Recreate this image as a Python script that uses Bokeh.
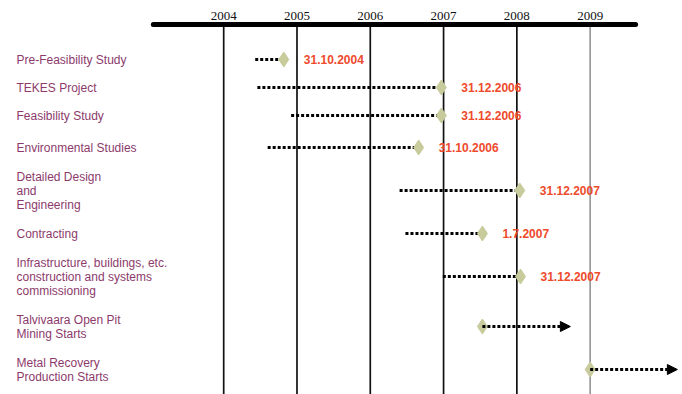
from bokeh.plotting import figure
from bokeh.models import ColumnDataSource, Range1d, Arrow, NormalHead
from bokeh.core.properties import value
from bokeh.embed import file_html
from bokeh.resources import INLINE

# ---- data ----
tasks = [
    "Pre-Feasibility Study",
    "TEKES Project",
    "Feasibility Study",
    "Environmental Studies",
    "Detailed Design\nand\nEngineering",
    "Contracting",
    "Infrastructure, buildings, etc.\nconstruction and systems\ncommissioning",
    "Talvivaara Open Pit\nMining Starts",
    "Metal Recovery\nProduction Starts",
]
task_start = [2004.43, 2004.46, 2004.92, 2004.60, 2006.40, 2006.48, 2006.99, 2007.53, 2009.00]
task_end = [2004.82, 2006.97, 2006.97, 2006.66, 2008.04, 2007.53, 2008.05, 2008.73, 2010.19]
milestone_text = ["31.10.2004", "31.12.2006", "31.12.2006", "31.10.2006",
                  "31.12.2007", "1.7.2007", "31.12.2007", "", ""]
ongoing = [False, False, False, False, False, False, False, True, True]
years = [2004, 2005, 2006, 2007, 2008, 2009]
year_labels = ["2004", "2005", "2006", "2007", "2008", "2009"]

# ---- layout (pixel rows, scale) ----
W, H = 682, 394
px_per_year = 73.29
x0_px = 223.2  # pixel of 2004
row_y = [59, 87, 115, 147, 190, 233, 276, 326, 369]
axis_y = 24

xs = 2004 - x0_px / px_per_year
xe = 2004 + (W - x0_px) / px_per_year

p = figure(width=W, height=H, x_range=Range1d(xs, xe), y_range=Range1d(H, 0),
           output_backend="svg", toolbar_location=None,
           x_axis_location=None, y_axis_location=None, min_border=0)
p.outline_line_color = None
p.grid.visible = False
p.background_fill_color = "white"

# vertical year lines
yl_colors = ["#111111"] * 5 + ["#9a9a9a"]
p.segment(x0=years, y0=[axis_y] * len(years), x1=years, y1=[H + 5] * len(years),
          line_color=yl_colors, line_width=1.7)

# thick top axis line
p.segment(x0=[2003.04], y0=[axis_y], x1=[2009.62], y1=[axis_y],
          line_color="black", line_width=5, line_cap="round")

# year labels
p.text(x=years, y=[15] * len(years), text=year_labels, text_align="center",
       text_baseline="middle", text_font=value("Liberation Serif"),
       text_font_size="13px", text_color="#111111")

# finished tasks: dotted bars ending in a diamond
done_idx = [i for i, o in enumerate(ongoing) if not o]
run_idx = [i for i, o in enumerate(ongoing) if o]
done = ColumnDataSource(dict(
    x0=[task_start[i] for i in done_idx], x1=[task_end[i] for i in done_idx],
    y=[row_y[i] for i in done_idx], lab=[milestone_text[i] for i in done_idx]))
p.segment(x0="x0", y0="y", x1="x1", y1="y", source=done, line_color="black",
          line_width=3, line_dash="3 2")

# ongoing: diamond at start with dotted arrow
run = ColumnDataSource(dict(
    x0=[task_start[i] for i in run_idx], x1=[task_end[i] for i in run_idx],
    y=[row_y[i] for i in run_idx]))
p.add_layout(Arrow(end=NormalHead(size=10, fill_color="black", line_color="black"),
                   x_start="x0", y_start="y", x_end="x1", y_end="y", source=run,
                   line_color="black", line_width=3, line_dash="3 2"))

p.scatter(x="x1", y="y", source=done, marker="diamond", size=15,
          fill_color="#c8cb9b", line_color="#c8cb9b")
p.scatter(x="x0", y="y", source=run, marker="diamond", size=15,
          fill_color="#c8cb9b", line_color="#c8cb9b")

# milestone dates
p.text(x="x1", y="y", text="lab", source=done, x_offset=20, text_align="left",
       text_baseline="middle", text_font=value("Liberation Sans"),
       text_font_size="12px", text_font_style="bold", text_color="#ee4a2c")

# task labels on the left
p.text(x=[xs] * len(tasks), y=row_y, text=tasks, x_offset=16, text_align="left",
       text_baseline="middle", text_font=value("Liberation Sans"),
       text_font_size="12px", text_color="#8c3a6b", text_line_height=1.0)

open("out.html", "w").write(file_html(p, INLINE))
